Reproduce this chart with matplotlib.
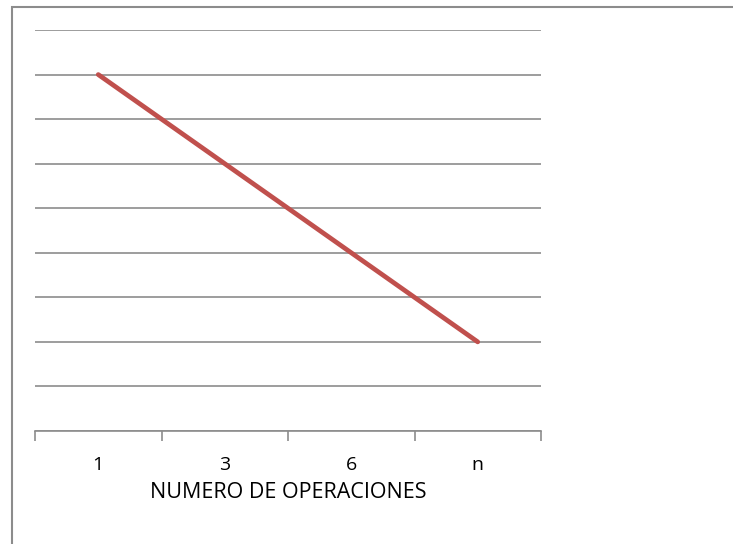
import numpy as np
import matplotlib
matplotlib.use("Agg")
import matplotlib.pyplot as plt
import matplotlib.ticker as ticker
from matplotlib.patches import Rectangle

categorias = ["1", "3", "6", "n"]
valores = [8, 6, 4, 2]

W, H = 733, 544
fig = plt.figure(figsize=(W/100, H/100), dpi=100)

# marco exterior tipo Excel
fig.patches.append(Rectangle((12/W, -0.1), 1.2, 1 - 7/H + 0.1, transform=fig.transFigure,
                             fill=False, edgecolor='#8c8c8c', linewidth=1.5))

ax = fig.add_axes([35/W, 1 - 431/H, (541-35)/W, (431-30)/H])
x = np.arange(len(categorias))
ax.plot(x, valores, color='#C0504D', linewidth=3.4, solid_capstyle='round')

ax.set_xlim(-0.5, len(categorias) - 0.5)
ax.set_ylim(0, 9)

for s in ['top', 'right', 'left']:
    ax.spines[s].set_visible(False)
ax.spines['bottom'].set_color('#8c8c8c')
ax.spines['bottom'].set_linewidth(1.2)

ax.yaxis.set_major_locator(ticker.MultipleLocator(1))
ax.tick_params(axis='y', left=False, labelleft=False)
ax.grid(axis='y', color='#8c8c8c', linewidth=1.2)

ax.set_xticks(x)
ax.set_xticklabels(categorias, fontsize=14, family='Open Sans')
ax.tick_params(axis='x', which='major', length=0, pad=18)
ax.xaxis.set_minor_locator(ticker.FixedLocator(np.arange(len(categorias) + 1) - 0.5))
ax.tick_params(axis='x', which='minor', length=7, width=1.2, color='#8c8c8c', direction='out')

ax.set_xlabel('NUMERO DE OPERACIONES', fontsize=15.5, family='Open Sans', va='center')
ax.xaxis.set_label_coords(0.5, (431 - 493) / 401)

fig.savefig('out.png', dpi=100)
